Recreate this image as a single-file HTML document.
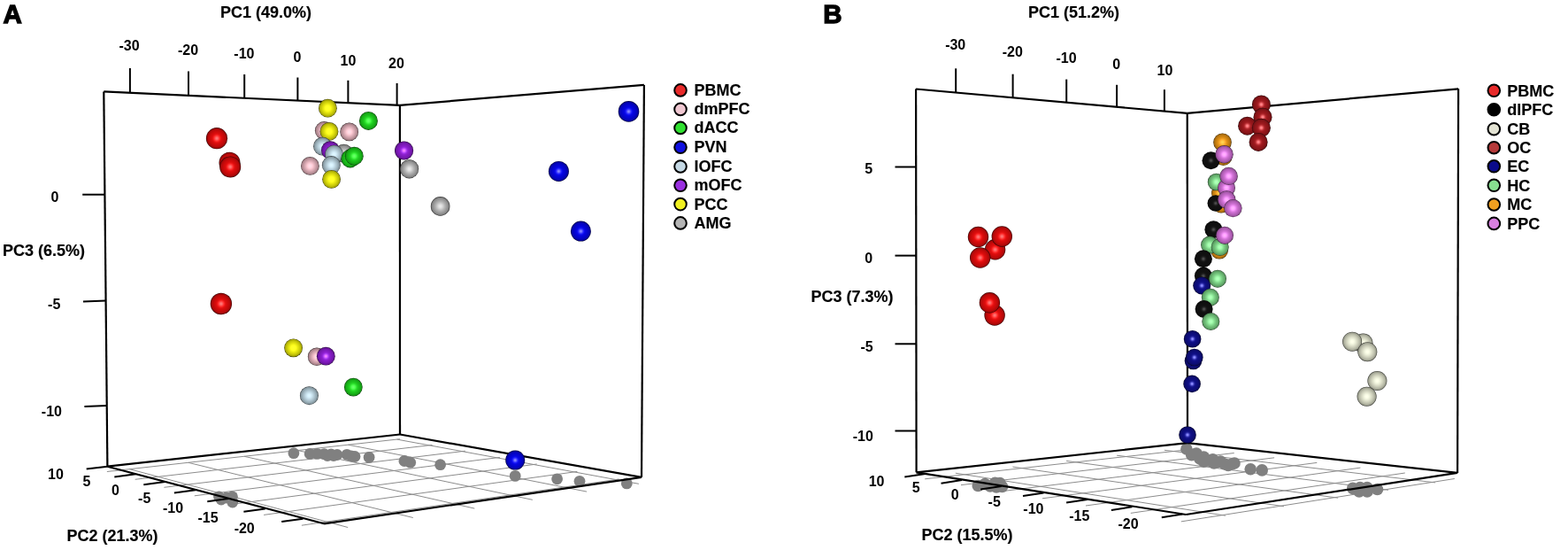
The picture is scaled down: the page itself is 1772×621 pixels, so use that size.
<!DOCTYPE html>
<html><head><meta charset="utf-8"><style>
html,body{margin:0;padding:0;background:#fff;width:1772px;height:621px;overflow:hidden}
svg{display:block}
text{font-family:"Liberation Sans",Arial,sans-serif;fill:#000;stroke:#000;stroke-width:0.15px}
text.tk{stroke:none}
</style></head><body>
<svg width="1772" height="621" viewBox="0 0 1772 621">
<defs><radialGradient id="g_red" cx="0.5" cy="0.5" r="0.5"><stop offset="0.00" stop-color="#ff7979"/><stop offset="0.05" stop-color="#ff7575"/><stop offset="0.10" stop-color="#ff6969"/><stop offset="0.15" stop-color="#ff5858"/><stop offset="0.20" stop-color="#ff4545"/><stop offset="0.25" stop-color="#ff3232"/><stop offset="0.30" stop-color="#fa2424"/><stop offset="0.35" stop-color="#ed1919"/><stop offset="0.40" stop-color="#e41212"/><stop offset="0.45" stop-color="#dd0e0e"/><stop offset="0.50" stop-color="#d80c0c"/><stop offset="0.55" stop-color="#d30b0b"/><stop offset="0.60" stop-color="#cf0b0b"/><stop offset="0.65" stop-color="#c90a0a"/><stop offset="0.70" stop-color="#c40a0a"/><stop offset="0.75" stop-color="#bd0a0a"/><stop offset="0.80" stop-color="#b50909"/><stop offset="0.85" stop-color="#ac0909"/><stop offset="0.90" stop-color="#a00808"/><stop offset="0.95" stop-color="#690505"/><stop offset="1.00" stop-color="#2f0202"/></radialGradient><radialGradient id="g_pink" cx="0.5" cy="0.5" r="0.5"><stop offset="0.00" stop-color="#ffdfe9"/><stop offset="0.05" stop-color="#ffdee8"/><stop offset="0.10" stop-color="#ffdce6"/><stop offset="0.15" stop-color="#ffd9e3"/><stop offset="0.20" stop-color="#ffd5df"/><stop offset="0.25" stop-color="#ffd0da"/><stop offset="0.30" stop-color="#fdcad4"/><stop offset="0.35" stop-color="#f6c4ce"/><stop offset="0.40" stop-color="#efbec7"/><stop offset="0.45" stop-color="#e8b7c1"/><stop offset="0.50" stop-color="#e1b1ba"/><stop offset="0.55" stop-color="#daabb4"/><stop offset="0.60" stop-color="#d3a5ae"/><stop offset="0.65" stop-color="#cc9fa8"/><stop offset="0.70" stop-color="#c599a2"/><stop offset="0.75" stop-color="#bd939b"/><stop offset="0.80" stop-color="#b58d94"/><stop offset="0.85" stop-color="#ac858d"/><stop offset="0.90" stop-color="#a07c83"/><stop offset="0.95" stop-color="#695156"/><stop offset="1.00" stop-color="#2f2426"/></radialGradient><radialGradient id="g_green" cx="0.5" cy="0.5" r="0.5"><stop offset="0.00" stop-color="#69ff69"/><stop offset="0.05" stop-color="#67ff67"/><stop offset="0.10" stop-color="#61ff61"/><stop offset="0.15" stop-color="#59ff59"/><stop offset="0.20" stop-color="#4fff4f"/><stop offset="0.25" stop-color="#44fa44"/><stop offset="0.30" stop-color="#3aee3a"/><stop offset="0.35" stop-color="#31e331"/><stop offset="0.40" stop-color="#29da29"/><stop offset="0.45" stop-color="#24d224"/><stop offset="0.50" stop-color="#20cb20"/><stop offset="0.55" stop-color="#1dc51d"/><stop offset="0.60" stop-color="#1bc01b"/><stop offset="0.65" stop-color="#1abb1a"/><stop offset="0.70" stop-color="#19b519"/><stop offset="0.75" stop-color="#18af18"/><stop offset="0.80" stop-color="#17a817"/><stop offset="0.85" stop-color="#169f16"/><stop offset="0.90" stop-color="#159415"/><stop offset="0.95" stop-color="#0e610e"/><stop offset="1.00" stop-color="#062c06"/></radialGradient><radialGradient id="g_blue" cx="0.5" cy="0.5" r="0.5"><stop offset="0.00" stop-color="#8d8dff"/><stop offset="0.05" stop-color="#8686ff"/><stop offset="0.10" stop-color="#7474ff"/><stop offset="0.15" stop-color="#5a5aff"/><stop offset="0.20" stop-color="#4040ff"/><stop offset="0.25" stop-color="#2929ff"/><stop offset="0.30" stop-color="#1818f8"/><stop offset="0.35" stop-color="#0e0eec"/><stop offset="0.40" stop-color="#0909e4"/><stop offset="0.45" stop-color="#0606de"/><stop offset="0.50" stop-color="#0505da"/><stop offset="0.55" stop-color="#0505d6"/><stop offset="0.60" stop-color="#0404d1"/><stop offset="0.65" stop-color="#0404cc"/><stop offset="0.70" stop-color="#0404c6"/><stop offset="0.75" stop-color="#0404bf"/><stop offset="0.80" stop-color="#0404b7"/><stop offset="0.85" stop-color="#0404ae"/><stop offset="0.90" stop-color="#0303a2"/><stop offset="0.95" stop-color="#02026a"/><stop offset="1.00" stop-color="#010130"/></radialGradient><radialGradient id="g_lblue" cx="0.5" cy="0.5" r="0.5"><stop offset="0.00" stop-color="#e0f9ff"/><stop offset="0.05" stop-color="#dff8ff"/><stop offset="0.10" stop-color="#ddf6ff"/><stop offset="0.15" stop-color="#daf3ff"/><stop offset="0.20" stop-color="#d6effb"/><stop offset="0.25" stop-color="#d2eaf6"/><stop offset="0.30" stop-color="#cce5f0"/><stop offset="0.35" stop-color="#c7dfea"/><stop offset="0.40" stop-color="#c1d9e4"/><stop offset="0.45" stop-color="#bbd2dd"/><stop offset="0.50" stop-color="#b5ccd7"/><stop offset="0.55" stop-color="#afc5d0"/><stop offset="0.60" stop-color="#a9bfca"/><stop offset="0.65" stop-color="#a3b9c3"/><stop offset="0.70" stop-color="#9db2bc"/><stop offset="0.75" stop-color="#97acb5"/><stop offset="0.80" stop-color="#91a4ad"/><stop offset="0.85" stop-color="#899ba4"/><stop offset="0.90" stop-color="#809199"/><stop offset="0.95" stop-color="#535f64"/><stop offset="1.00" stop-color="#252b2d"/></radialGradient><radialGradient id="g_purple" cx="0.5" cy="0.5" r="0.5"><stop offset="0.00" stop-color="#fa87ff"/><stop offset="0.05" stop-color="#f683ff"/><stop offset="0.10" stop-color="#eb78ff"/><stop offset="0.15" stop-color="#da68ff"/><stop offset="0.20" stop-color="#c856ff"/><stop offset="0.25" stop-color="#b544fa"/><stop offset="0.30" stop-color="#a636ea"/><stop offset="0.35" stop-color="#9a2bde"/><stop offset="0.40" stop-color="#9124d4"/><stop offset="0.45" stop-color="#8c1fce"/><stop offset="0.50" stop-color="#881dc8"/><stop offset="0.55" stop-color="#841cc4"/><stop offset="0.60" stop-color="#811bbf"/><stop offset="0.65" stop-color="#7e1abb"/><stop offset="0.70" stop-color="#7a19b5"/><stop offset="0.75" stop-color="#7618af"/><stop offset="0.80" stop-color="#7117a8"/><stop offset="0.85" stop-color="#6b169f"/><stop offset="0.90" stop-color="#641594"/><stop offset="0.95" stop-color="#410e61"/><stop offset="1.00" stop-color="#1d062c"/></radialGradient><radialGradient id="g_yellow" cx="0.5" cy="0.5" r="0.5"><stop offset="0.00" stop-color="#ffff2c"/><stop offset="0.05" stop-color="#ffff2b"/><stop offset="0.10" stop-color="#ffff2a"/><stop offset="0.15" stop-color="#ffff28"/><stop offset="0.20" stop-color="#ffff25"/><stop offset="0.25" stop-color="#ffff22"/><stop offset="0.30" stop-color="#fdfd1f"/><stop offset="0.35" stop-color="#f7f71b"/><stop offset="0.40" stop-color="#f1f118"/><stop offset="0.45" stop-color="#ebeb14"/><stop offset="0.50" stop-color="#e4e411"/><stop offset="0.55" stop-color="#dede0f"/><stop offset="0.60" stop-color="#d7d70d"/><stop offset="0.65" stop-color="#d1d10b"/><stop offset="0.70" stop-color="#caca0a"/><stop offset="0.75" stop-color="#c2c209"/><stop offset="0.80" stop-color="#baba08"/><stop offset="0.85" stop-color="#b0b007"/><stop offset="0.90" stop-color="#a4a407"/><stop offset="0.95" stop-color="#6b6b05"/><stop offset="1.00" stop-color="#303002"/></radialGradient><radialGradient id="g_gray" cx="0.5" cy="0.5" r="0.5"><stop offset="0.00" stop-color="#e9e9e9"/><stop offset="0.05" stop-color="#e8e8e8"/><stop offset="0.10" stop-color="#e5e5e5"/><stop offset="0.15" stop-color="#e1e1e1"/><stop offset="0.20" stop-color="#dbdbdb"/><stop offset="0.25" stop-color="#d5d5d5"/><stop offset="0.30" stop-color="#cecece"/><stop offset="0.35" stop-color="#c6c6c6"/><stop offset="0.40" stop-color="#bfbfbf"/><stop offset="0.45" stop-color="#b8b8b8"/><stop offset="0.50" stop-color="#b1b1b1"/><stop offset="0.55" stop-color="#ababab"/><stop offset="0.60" stop-color="#a5a5a5"/><stop offset="0.65" stop-color="#a0a0a0"/><stop offset="0.70" stop-color="#9a9a9a"/><stop offset="0.75" stop-color="#949494"/><stop offset="0.80" stop-color="#8e8e8e"/><stop offset="0.85" stop-color="#878787"/><stop offset="0.90" stop-color="#7e7e7e"/><stop offset="0.95" stop-color="#525252"/><stop offset="1.00" stop-color="#252525"/></radialGradient><radialGradient id="g_black" cx="0.5" cy="0.5" r="0.5"><stop offset="0.00" stop-color="#525252"/><stop offset="0.05" stop-color="#4f4f4f"/><stop offset="0.10" stop-color="#464646"/><stop offset="0.15" stop-color="#393939"/><stop offset="0.20" stop-color="#2c2c2c"/><stop offset="0.25" stop-color="#212121"/><stop offset="0.30" stop-color="#1a1a1a"/><stop offset="0.35" stop-color="#151515"/><stop offset="0.40" stop-color="#131313"/><stop offset="0.45" stop-color="#111111"/><stop offset="0.50" stop-color="#111111"/><stop offset="0.55" stop-color="#101010"/><stop offset="0.60" stop-color="#101010"/><stop offset="0.65" stop-color="#101010"/><stop offset="0.70" stop-color="#0f0f0f"/><stop offset="0.75" stop-color="#0f0f0f"/><stop offset="0.80" stop-color="#0e0e0e"/><stop offset="0.85" stop-color="#0d0d0d"/><stop offset="0.90" stop-color="#0c0c0c"/><stop offset="0.95" stop-color="#080808"/><stop offset="1.00" stop-color="#040404"/></radialGradient><radialGradient id="g_beige" cx="0.5" cy="0.5" r="0.5"><stop offset="0.00" stop-color="#ffffec"/><stop offset="0.05" stop-color="#ffffeb"/><stop offset="0.10" stop-color="#fdffea"/><stop offset="0.15" stop-color="#fbfee7"/><stop offset="0.20" stop-color="#f7fae4"/><stop offset="0.25" stop-color="#f3f6e0"/><stop offset="0.30" stop-color="#eef1db"/><stop offset="0.35" stop-color="#e9ecd6"/><stop offset="0.40" stop-color="#e3e6d0"/><stop offset="0.45" stop-color="#dee0cb"/><stop offset="0.50" stop-color="#d8dac5"/><stop offset="0.55" stop-color="#d2d4bf"/><stop offset="0.60" stop-color="#ccceba"/><stop offset="0.65" stop-color="#c5c8b4"/><stop offset="0.70" stop-color="#bfc1ae"/><stop offset="0.75" stop-color="#b8baa7"/><stop offset="0.80" stop-color="#b0b2a0"/><stop offset="0.85" stop-color="#a6a998"/><stop offset="0.90" stop-color="#9b9d8d"/><stop offset="0.95" stop-color="#65675c"/><stop offset="1.00" stop-color="#2e2e2a"/></radialGradient><radialGradient id="g_dred" cx="0.5" cy="0.5" r="0.5"><stop offset="0.00" stop-color="#ff8c91"/><stop offset="0.05" stop-color="#ff878c"/><stop offset="0.10" stop-color="#ff7a7f"/><stop offset="0.15" stop-color="#f2676c"/><stop offset="0.20" stop-color="#dc5257"/><stop offset="0.25" stop-color="#c83f44"/><stop offset="0.30" stop-color="#b82f34"/><stop offset="0.35" stop-color="#ac2429"/><stop offset="0.40" stop-color="#a31e22"/><stop offset="0.45" stop-color="#9e1a1f"/><stop offset="0.50" stop-color="#9a181d"/><stop offset="0.55" stop-color="#96171c"/><stop offset="0.60" stop-color="#93161b"/><stop offset="0.65" stop-color="#8f161a"/><stop offset="0.70" stop-color="#8b1519"/><stop offset="0.75" stop-color="#861418"/><stop offset="0.80" stop-color="#811417"/><stop offset="0.85" stop-color="#7a1216"/><stop offset="0.90" stop-color="#721115"/><stop offset="0.95" stop-color="#4a0b0e"/><stop offset="1.00" stop-color="#210506"/></radialGradient><radialGradient id="g_navy" cx="0.5" cy="0.5" r="0.5"><stop offset="0.00" stop-color="#9898ff"/><stop offset="0.05" stop-color="#9191ff"/><stop offset="0.10" stop-color="#7e7efb"/><stop offset="0.15" stop-color="#6464e0"/><stop offset="0.20" stop-color="#4949c5"/><stop offset="0.25" stop-color="#3333ad"/><stop offset="0.30" stop-color="#22229c"/><stop offset="0.35" stop-color="#181890"/><stop offset="0.40" stop-color="#121289"/><stop offset="0.45" stop-color="#0f0f85"/><stop offset="0.50" stop-color="#0e0e82"/><stop offset="0.55" stop-color="#0e0e7f"/><stop offset="0.60" stop-color="#0d0d7d"/><stop offset="0.65" stop-color="#0d0d7a"/><stop offset="0.70" stop-color="#0d0d76"/><stop offset="0.75" stop-color="#0c0c72"/><stop offset="0.80" stop-color="#0c0c6d"/><stop offset="0.85" stop-color="#0b0b68"/><stop offset="0.90" stop-color="#0a0a61"/><stop offset="0.95" stop-color="#07073f"/><stop offset="1.00" stop-color="#03031c"/></radialGradient><radialGradient id="g_lgreen" cx="0.5" cy="0.5" r="0.5"><stop offset="0.00" stop-color="#b1ffbb"/><stop offset="0.05" stop-color="#b1ffbb"/><stop offset="0.10" stop-color="#aeffb8"/><stop offset="0.15" stop-color="#aaffb3"/><stop offset="0.20" stop-color="#a4fdae"/><stop offset="0.25" stop-color="#9df6a7"/><stop offset="0.30" stop-color="#96eea0"/><stop offset="0.35" stop-color="#8fe699"/><stop offset="0.40" stop-color="#88de92"/><stop offset="0.45" stop-color="#82d68b"/><stop offset="0.50" stop-color="#7ccf85"/><stop offset="0.55" stop-color="#77c980"/><stop offset="0.60" stop-color="#72c27b"/><stop offset="0.65" stop-color="#6ebc77"/><stop offset="0.70" stop-color="#6ab672"/><stop offset="0.75" stop-color="#66af6e"/><stop offset="0.80" stop-color="#62a869"/><stop offset="0.85" stop-color="#5c9f64"/><stop offset="0.90" stop-color="#56945d"/><stop offset="0.95" stop-color="#38613d"/><stop offset="1.00" stop-color="#192c1b"/></radialGradient><radialGradient id="g_orange" cx="0.5" cy="0.5" r="0.5"><stop offset="0.00" stop-color="#ffd553"/><stop offset="0.05" stop-color="#ffd351"/><stop offset="0.10" stop-color="#ffcf4e"/><stop offset="0.15" stop-color="#ffc948"/><stop offset="0.20" stop-color="#ffc141"/><stop offset="0.25" stop-color="#ffb839"/><stop offset="0.30" stop-color="#ffaf30"/><stop offset="0.35" stop-color="#f8a629"/><stop offset="0.40" stop-color="#ef9e22"/><stop offset="0.45" stop-color="#e7971d"/><stop offset="0.50" stop-color="#e09118"/><stop offset="0.55" stop-color="#d98c15"/><stop offset="0.60" stop-color="#d38713"/><stop offset="0.65" stop-color="#cd8312"/><stop offset="0.70" stop-color="#c67f11"/><stop offset="0.75" stop-color="#bf7a10"/><stop offset="0.80" stop-color="#b77510"/><stop offset="0.85" stop-color="#ae6f0f"/><stop offset="0.90" stop-color="#a2670e"/><stop offset="0.95" stop-color="#6a4409"/><stop offset="1.00" stop-color="#301e04"/></radialGradient><radialGradient id="g_violet" cx="0.5" cy="0.5" r="0.5"><stop offset="0.00" stop-color="#ffb4ff"/><stop offset="0.05" stop-color="#ffb3ff"/><stop offset="0.10" stop-color="#ffaeff"/><stop offset="0.15" stop-color="#ffa8ff"/><stop offset="0.20" stop-color="#ffa0ff"/><stop offset="0.25" stop-color="#f996fe"/><stop offset="0.30" stop-color="#ee8df3"/><stop offset="0.35" stop-color="#e584e9"/><stop offset="0.40" stop-color="#dc7ce0"/><stop offset="0.45" stop-color="#d475d8"/><stop offset="0.50" stop-color="#cd70d1"/><stop offset="0.55" stop-color="#c66bcb"/><stop offset="0.60" stop-color="#c168c5"/><stop offset="0.65" stop-color="#bb64c0"/><stop offset="0.70" stop-color="#b561ba"/><stop offset="0.75" stop-color="#af5eb3"/><stop offset="0.80" stop-color="#a85aac"/><stop offset="0.85" stop-color="#9f55a3"/><stop offset="0.90" stop-color="#944f98"/><stop offset="0.95" stop-color="#613463"/><stop offset="1.00" stop-color="#2c172d"/></radialGradient></defs>
<rect width="1772" height="621" fill="#fff"/>
<line x1="146.5" y1="529.7" x2="393.2" y2="595.5" stroke="#8c8c8c" stroke-width="1.0" />
<line x1="212.8" y1="522.3" x2="466.8" y2="584.5" stroke="#8c8c8c" stroke-width="1.0" />
<line x1="276.1" y1="515.3" x2="536.3" y2="574.1" stroke="#8c8c8c" stroke-width="1.0" />
<line x1="336.4" y1="508.6" x2="601.8" y2="564.3" stroke="#8c8c8c" stroke-width="1.0" />
<line x1="393.4" y1="502.2" x2="663.1" y2="555.1" stroke="#8c8c8c" stroke-width="1.0" />
<line x1="448.6" y1="496.1" x2="721.9" y2="546.3" stroke="#8c8c8c" stroke-width="1.0" />
<line x1="120.9" y1="532.5" x2="452.0" y2="495.7" stroke="#8c8c8c" stroke-width="1.0" />
<line x1="152.7" y1="541.3" x2="488.6" y2="502.4" stroke="#8c8c8c" stroke-width="1.0" />
<line x1="185.4" y1="550.3" x2="525.9" y2="509.2" stroke="#8c8c8c" stroke-width="1.0" />
<line x1="219.8" y1="559.8" x2="564.9" y2="516.4" stroke="#8c8c8c" stroke-width="1.0" />
<line x1="257.1" y1="570.1" x2="606.7" y2="524.0" stroke="#8c8c8c" stroke-width="1.0" />
<line x1="298.1" y1="581.4" x2="652.4" y2="532.4" stroke="#8c8c8c" stroke-width="1.0" />
<line x1="340.9" y1="593.2" x2="699.5" y2="541.0" stroke="#8c8c8c" stroke-width="1.0" />
<circle cx="331.9" cy="511.7" r="6.4" fill="#808080"/>
<circle cx="350.2" cy="512.4" r="6.4" fill="#808080"/>
<circle cx="358.4" cy="512.4" r="6.4" fill="#808080"/>
<circle cx="366.3" cy="512.6" r="6.4" fill="#808080"/>
<circle cx="374.2" cy="513" r="6.4" fill="#808080"/>
<circle cx="381" cy="513.5" r="6.4" fill="#808080"/>
<circle cx="370" cy="514.5" r="6.4" fill="#808080"/>
<circle cx="377" cy="514.5" r="6.4" fill="#808080"/>
<circle cx="392" cy="513.3" r="6.4" fill="#808080"/>
<circle cx="397" cy="514.8" r="6.4" fill="#808080"/>
<circle cx="401" cy="515.5" r="6.4" fill="#808080"/>
<circle cx="417.1" cy="516.4" r="6.4" fill="#808080"/>
<circle cx="456.9" cy="520.5" r="6.4" fill="#808080"/>
<circle cx="463.7" cy="522.2" r="6.4" fill="#808080"/>
<circle cx="497.6" cy="524.7" r="6.4" fill="#808080"/>
<circle cx="582.2" cy="537.4" r="6.4" fill="#808080"/>
<circle cx="629.6" cy="540.8" r="6.4" fill="#808080"/>
<circle cx="655" cy="543.3" r="6.4" fill="#808080"/>
<circle cx="708.3" cy="545.9" r="6.4" fill="#808080"/>
<circle cx="247.5" cy="561" r="6.4" fill="#808080"/>
<circle cx="250" cy="564" r="6.4" fill="#808080"/>
<circle cx="256" cy="562" r="6.4" fill="#808080"/>
<circle cx="262.5" cy="560.8" r="6.4" fill="#808080"/>
<circle cx="262.8" cy="567" r="6.4" fill="#808080"/>
<line x1="117.3" y1="103.4" x2="451.9" y2="118.9" stroke="#000" stroke-width="2.2" />
<line x1="451.9" y1="118.9" x2="727.9" y2="95.9" stroke="#000" stroke-width="2.2" />
<line x1="117.3" y1="103.4" x2="121.4" y2="526.7" stroke="#000" stroke-width="2.2" />
<line x1="451.9" y1="118.9" x2="452.0" y2="490.5" stroke="#000" stroke-width="2.2" />
<line x1="727.9" y1="95.9" x2="725.0" y2="538.8" stroke="#000" stroke-width="2.2" />
<line x1="121.4" y1="526.7" x2="452.0" y2="490.5" stroke="#000" stroke-width="2.2" />
<line x1="452.0" y1="490.5" x2="725.0" y2="538.8" stroke="#000" stroke-width="2.2" />
<line x1="121.4" y1="526.7" x2="366.1" y2="591.3" stroke="#000" stroke-width="2.2" />
<line x1="366.1" y1="591.3" x2="725.0" y2="538.8" stroke="#000" stroke-width="2.2" />
<line x1="146.9" y1="77.0" x2="146.9" y2="104.8" stroke="#000" stroke-width="2.0" />
<line x1="213.0" y1="80.5" x2="213.0" y2="107.8" stroke="#000" stroke-width="2.0" />
<line x1="276.2" y1="84.0" x2="276.2" y2="110.8" stroke="#000" stroke-width="2.0" />
<line x1="336.4" y1="87.5" x2="336.4" y2="113.5" stroke="#000" stroke-width="2.0" />
<line x1="393.4" y1="90.8" x2="393.4" y2="116.2" stroke="#000" stroke-width="2.0" />
<line x1="448.6" y1="94.0" x2="448.6" y2="118.7" stroke="#000" stroke-width="2.0" />
<text x="146.0" y="56.8" font-size="16" text-anchor="middle" font-weight="bold" class="tk">-30</text>
<text x="212.5" y="61.8" font-size="16" text-anchor="middle" font-weight="bold" class="tk">-20</text>
<text x="275.9" y="65.5" font-size="16" text-anchor="middle" font-weight="bold" class="tk">-10</text>
<text x="335.9" y="69.6" font-size="16" text-anchor="middle" font-weight="bold" class="tk">0</text>
<text x="393.5" y="73.6" font-size="16" text-anchor="middle" font-weight="bold" class="tk">10</text>
<text x="448.0" y="76.6" font-size="16" text-anchor="middle" font-weight="bold" class="tk">20</text>
<line x1="93.2" y1="219.7" x2="118.4" y2="219.7" stroke="#000" stroke-width="2.0" />
<line x1="94.0" y1="340.4" x2="119.6" y2="339.5" stroke="#000" stroke-width="2.0" />
<line x1="95.4" y1="458.9" x2="120.7" y2="458.0" stroke="#000" stroke-width="2.0" />
<text x="62.0" y="227.8" font-size="16" text-anchor="middle" font-weight="bold" class="tk">0</text>
<text x="61.2" y="349.2" font-size="16" text-anchor="middle" font-weight="bold" class="tk">-5</text>
<text x="58.4" y="470.2" font-size="16" text-anchor="middle" font-weight="bold" class="tk">-10</text>
<line x1="129.3" y1="538.6" x2="153.5" y2="535.3" stroke="#000" stroke-width="2.0" />
<line x1="162.3" y1="547.3" x2="186.5" y2="544.0" stroke="#000" stroke-width="2.0" />
<line x1="196.9" y1="556.5" x2="221.1" y2="553.2" stroke="#000" stroke-width="2.0" />
<line x1="234.3" y1="566.3" x2="258.5" y2="563.0" stroke="#000" stroke-width="2.0" />
<line x1="275.4" y1="577.7" x2="299.6" y2="574.4" stroke="#000" stroke-width="2.0" />
<line x1="318.2" y1="589.0" x2="342.4" y2="585.7" stroke="#000" stroke-width="2.0" />
<line x1="97.7" y1="529.5" x2="121.4" y2="526.7" stroke="#000" stroke-width="2.0" />
<text x="63.0" y="541.4" font-size="16" text-anchor="middle" font-weight="bold" class="tk">10</text>
<text x="98.0" y="549.4" font-size="16" text-anchor="middle" font-weight="bold" class="tk">5</text>
<text x="130.5" y="558.5" font-size="16" text-anchor="middle" font-weight="bold" class="tk">0</text>
<text x="163.2" y="568.2" font-size="16" text-anchor="middle" font-weight="bold" class="tk">-5</text>
<text x="195.5" y="578.9" font-size="16" text-anchor="middle" font-weight="bold" class="tk">-10</text>
<text x="235.0" y="590.3" font-size="16" text-anchor="middle" font-weight="bold" class="tk">-15</text>
<text x="276.2" y="601.6" font-size="16" text-anchor="middle" font-weight="bold" class="tk">-20</text>
<text x="300.5" y="19.6" font-size="18" text-anchor="middle" font-weight="bold" >PC1 (49.0%)</text>
<text x="49.6" y="289.0" font-size="18" text-anchor="middle" font-weight="bold" >PC3 (6.5%)</text>
<text x="127.0" y="611.0" font-size="18" text-anchor="middle" font-weight="bold" >PC2 (21.3%)</text>
<text x="3.6" y="25.9" font-size="29.5" text-anchor="start" font-weight="bold" style="stroke-width:1.3px">A</text>
<circle cx="245" cy="156.2" r="12.1" fill="url(#g_red)"/>
<circle cx="259.5" cy="183.7" r="12" fill="url(#g_red)"/>
<circle cx="260.2" cy="188.4" r="12" fill="url(#g_red)"/>
<circle cx="249.9" cy="343" r="12.2" fill="url(#g_red)"/>
<circle cx="370.4" cy="122.2" r="10.4" fill="url(#g_yellow)"/>
<circle cx="416.4" cy="136.4" r="10.5" fill="url(#g_green)"/>
<circle cx="366.3" cy="147.5" r="10.4" fill="url(#g_pink)"/>
<circle cx="372" cy="148.4" r="10.4" fill="url(#g_yellow)"/>
<circle cx="394.7" cy="148.9" r="10.4" fill="url(#g_pink)"/>
<circle cx="364.5" cy="165.2" r="10.4" fill="url(#g_lblue)"/>
<circle cx="388.5" cy="173.2" r="10.4" fill="url(#g_gray)"/>
<circle cx="373.4" cy="169.7" r="10.4" fill="url(#g_purple)"/>
<circle cx="377.5" cy="174.1" r="10.4" fill="url(#g_lblue)"/>
<circle cx="395.8" cy="179" r="10.4" fill="url(#g_green)"/>
<circle cx="400.3" cy="176.2" r="10.4" fill="url(#g_green)"/>
<circle cx="350.4" cy="187.4" r="10.4" fill="url(#g_pink)"/>
<circle cx="374.3" cy="186.5" r="10.4" fill="url(#g_lblue)"/>
<circle cx="374.6" cy="202.4" r="10.4" fill="url(#g_yellow)"/>
<circle cx="456.6" cy="170" r="10.6" fill="url(#g_purple)"/>
<circle cx="462.6" cy="190.8" r="10.6" fill="url(#g_gray)"/>
<circle cx="497.6" cy="232.9" r="10.8" fill="url(#g_gray)"/>
<circle cx="710.5" cy="125.9" r="11.8" fill="url(#g_blue)"/>
<circle cx="631.4" cy="193.4" r="11.5" fill="url(#g_blue)"/>
<circle cx="656.4" cy="261.1" r="11.5" fill="url(#g_blue)"/>
<circle cx="331.6" cy="392.8" r="10.4" fill="url(#g_yellow)"/>
<circle cx="358" cy="402.8" r="10.2" fill="url(#g_pink)"/>
<circle cx="368.3" cy="402.2" r="10.4" fill="url(#g_purple)"/>
<circle cx="349.4" cy="446.7" r="10.5" fill="url(#g_lblue)"/>
<circle cx="399.3" cy="437.1" r="10.4" fill="url(#g_green)"/>
<circle cx="582.2" cy="519.6" r="11" fill="url(#g_blue)"/>
<circle cx="769" cy="101.9" r="6.8" fill="#e82a2a" stroke="#000" stroke-width="2"/>
<text x="784.6" y="107.9" font-size="18" text-anchor="start" font-weight="bold" >PBMC</text>
<circle cx="769" cy="123.4" r="6.8" fill="#f0c8d2" stroke="#000" stroke-width="2"/>
<text x="784.6" y="129.4" font-size="18" text-anchor="start" font-weight="bold" >dmPFC</text>
<circle cx="769" cy="144.4" r="6.8" fill="#30e030" stroke="#000" stroke-width="2"/>
<text x="784.6" y="150.4" font-size="18" text-anchor="start" font-weight="bold" >dACC</text>
<circle cx="769" cy="166.3" r="6.8" fill="#1010e0" stroke="#000" stroke-width="2"/>
<text x="784.6" y="172.3" font-size="18" text-anchor="start" font-weight="bold" >PVN</text>
<circle cx="769" cy="188" r="6.8" fill="#c4d8e4" stroke="#000" stroke-width="2"/>
<text x="784.6" y="194.0" font-size="18" text-anchor="start" font-weight="bold" >lOFC</text>
<circle cx="769" cy="209.3" r="6.8" fill="#9a30e0" stroke="#000" stroke-width="2"/>
<text x="784.6" y="215.3" font-size="18" text-anchor="start" font-weight="bold" >mOFC</text>
<circle cx="769" cy="230.6" r="6.8" fill="#f0f020" stroke="#000" stroke-width="2"/>
<text x="784.6" y="236.6" font-size="18" text-anchor="start" font-weight="bold" >PCC</text>
<circle cx="769" cy="251.9" r="6.8" fill="#b4b4b4" stroke="#000" stroke-width="2"/>
<text x="784.6" y="257.9" font-size="18" text-anchor="start" font-weight="bold" >AMG</text>
<line x1="1079.8" y1="534.2" x2="1385.0" y2="582.2" stroke="#8c8c8c" stroke-width="1.0" />
<line x1="1144.4" y1="527.1" x2="1451.0" y2="571.8" stroke="#8c8c8c" stroke-width="1.0" />
<line x1="1205.1" y1="520.4" x2="1512.2" y2="562.2" stroke="#8c8c8c" stroke-width="1.0" />
<line x1="1262.1" y1="514.2" x2="1569.0" y2="553.3" stroke="#8c8c8c" stroke-width="1.0" />
<line x1="1315.9" y1="508.3" x2="1622.1" y2="544.9" stroke="#8c8c8c" stroke-width="1.0" />
<line x1="1045.2" y1="540.8" x2="1352.5" y2="506.6" stroke="#8c8c8c" stroke-width="1.0" />
<line x1="1086.0" y1="547.6" x2="1394.7" y2="511.5" stroke="#8c8c8c" stroke-width="1.0" />
<line x1="1130.4" y1="554.9" x2="1440.1" y2="516.8" stroke="#8c8c8c" stroke-width="1.0" />
<line x1="1178.0" y1="562.8" x2="1488.3" y2="522.4" stroke="#8c8c8c" stroke-width="1.0" />
<line x1="1227.0" y1="571.0" x2="1537.4" y2="528.1" stroke="#8c8c8c" stroke-width="1.0" />
<line x1="1277.8" y1="579.4" x2="1587.8" y2="534.0" stroke="#8c8c8c" stroke-width="1.0" />
<line x1="1334.8" y1="588.9" x2="1643.8" y2="540.5" stroke="#8c8c8c" stroke-width="1.0" />
<circle cx="1105.3" cy="548.5" r="6.8" fill="#808080"/>
<circle cx="1113" cy="546.5" r="6.8" fill="#808080"/>
<circle cx="1119" cy="549" r="6.8" fill="#808080"/>
<circle cx="1124.5" cy="545.3" r="6.8" fill="#808080"/>
<circle cx="1130" cy="545.5" r="6.8" fill="#808080"/>
<circle cx="1132.5" cy="549.5" r="6.8" fill="#808080"/>
<circle cx="1126" cy="550" r="6.8" fill="#808080"/>
<circle cx="1340.9" cy="507" r="6.8" fill="#808080"/>
<circle cx="1346.7" cy="513.8" r="6.8" fill="#808080"/>
<circle cx="1360.4" cy="516" r="6.8" fill="#808080"/>
<circle cx="1370.6" cy="518.9" r="6.8" fill="#808080"/>
<circle cx="1379.3" cy="521.1" r="6.8" fill="#808080"/>
<circle cx="1392.3" cy="524" r="6.8" fill="#808080"/>
<circle cx="1388" cy="525.4" r="6.8" fill="#808080"/>
<circle cx="1360.4" cy="521.1" r="6.8" fill="#808080"/>
<circle cx="1372" cy="523" r="6.8" fill="#808080"/>
<circle cx="1352" cy="512" r="6.8" fill="#808080"/>
<circle cx="1356" cy="518" r="6.8" fill="#808080"/>
<circle cx="1366" cy="520" r="6.8" fill="#808080"/>
<circle cx="1375" cy="522" r="6.8" fill="#808080"/>
<circle cx="1384" cy="524" r="6.8" fill="#808080"/>
<circle cx="1395" cy="523" r="6.8" fill="#808080"/>
<circle cx="1413.2" cy="529.8" r="6.8" fill="#808080"/>
<circle cx="1426.2" cy="530.9" r="6.8" fill="#808080"/>
<circle cx="1528.8" cy="551.4" r="6.8" fill="#808080"/>
<circle cx="1537" cy="550.5" r="6.8" fill="#808080"/>
<circle cx="1545" cy="550.5" r="6.8" fill="#808080"/>
<circle cx="1545" cy="555" r="6.8" fill="#808080"/>
<circle cx="1556.5" cy="552.5" r="6.8" fill="#808080"/>
<circle cx="1536" cy="555" r="6.8" fill="#808080"/>
<line x1="1035.1" y1="100.5" x2="1341.7" y2="127.9" stroke="#000" stroke-width="2.2" />
<line x1="1341.7" y1="127.9" x2="1648.1" y2="100.3" stroke="#000" stroke-width="2.2" />
<line x1="1035.1" y1="100.5" x2="1035.6" y2="533.3" stroke="#000" stroke-width="2.2" />
<line x1="1341.7" y1="127.9" x2="1342.0" y2="500.2" stroke="#000" stroke-width="2.2" />
<line x1="1648.1" y1="100.3" x2="1647.1" y2="533.9" stroke="#000" stroke-width="2.2" />
<line x1="1035.6" y1="533.3" x2="1342.0" y2="500.2" stroke="#000" stroke-width="2.2" />
<line x1="1342.0" y1="500.2" x2="1647.1" y2="533.9" stroke="#000" stroke-width="2.2" />
<line x1="1035.6" y1="533.3" x2="1340.2" y2="581.0" stroke="#000" stroke-width="2.2" />
<line x1="1340.2" y1="581.0" x2="1647.1" y2="533.9" stroke="#000" stroke-width="2.2" />
<line x1="1080.2" y1="77.3" x2="1080.2" y2="104.5" stroke="#000" stroke-width="2.0" />
<line x1="1144.6" y1="83.7" x2="1144.6" y2="110.3" stroke="#000" stroke-width="2.0" />
<line x1="1205.2" y1="89.6" x2="1205.2" y2="115.7" stroke="#000" stroke-width="2.0" />
<line x1="1262.1" y1="95.8" x2="1262.1" y2="120.8" stroke="#000" stroke-width="2.0" />
<line x1="1315.9" y1="101.2" x2="1315.9" y2="125.6" stroke="#000" stroke-width="2.0" />
<text x="1079.7" y="56.2" font-size="16" text-anchor="middle" font-weight="bold" class="tk">-30</text>
<text x="1144.3" y="63.9" font-size="16" text-anchor="middle" font-weight="bold" class="tk">-20</text>
<text x="1205.0" y="70.8" font-size="16" text-anchor="middle" font-weight="bold" class="tk">-10</text>
<text x="1261.6" y="78.1" font-size="16" text-anchor="middle" font-weight="bold" class="tk">0</text>
<text x="1316.4" y="84.5" font-size="16" text-anchor="middle" font-weight="bold" class="tk">10</text>
<line x1="1011.5" y1="188.5" x2="1035.3" y2="188.5" stroke="#000" stroke-width="2.0" />
<line x1="1011.5" y1="288.6" x2="1035.3" y2="288.6" stroke="#000" stroke-width="2.0" />
<line x1="1011.5" y1="388.3" x2="1035.3" y2="388.3" stroke="#000" stroke-width="2.0" />
<line x1="1011.5" y1="486.5" x2="1035.3" y2="486.5" stroke="#000" stroke-width="2.0" />
<text x="981.7" y="196.4" font-size="16" text-anchor="middle" font-weight="bold" class="tk">5</text>
<text x="981.7" y="296.8" font-size="16" text-anchor="middle" font-weight="bold" class="tk">0</text>
<text x="979.6" y="397.4" font-size="16" text-anchor="middle" font-weight="bold" class="tk">-5</text>
<text x="975.3" y="498.4" font-size="16" text-anchor="middle" font-weight="bold" class="tk">-10</text>
<line x1="1022.3" y1="538.6" x2="1045.8" y2="535.0" stroke="#000" stroke-width="2.0" />
<line x1="1063.5" y1="545.7" x2="1087.0" y2="542.1" stroke="#000" stroke-width="2.0" />
<line x1="1108.2" y1="552.6" x2="1131.7" y2="549.0" stroke="#000" stroke-width="2.0" />
<line x1="1156.0" y1="560.0" x2="1179.5" y2="556.4" stroke="#000" stroke-width="2.0" />
<line x1="1205.1" y1="567.5" x2="1228.6" y2="563.9" stroke="#000" stroke-width="2.0" />
<line x1="1255.9" y1="575.9" x2="1279.4" y2="572.3" stroke="#000" stroke-width="2.0" />
<line x1="1312.8" y1="584.2" x2="1336.3" y2="580.6" stroke="#000" stroke-width="2.0" />
<text x="990.6" y="548.9" font-size="16" text-anchor="middle" font-weight="bold" class="tk">10</text>
<text x="1035.2" y="556.2" font-size="16" text-anchor="middle" font-weight="bold" class="tk">5</text>
<text x="1079.3" y="564.0" font-size="16" text-anchor="middle" font-weight="bold" class="tk">0</text>
<text x="1123.7" y="571.8" font-size="16" text-anchor="middle" font-weight="bold" class="tk">-5</text>
<text x="1167.9" y="580.0" font-size="16" text-anchor="middle" font-weight="bold" class="tk">-10</text>
<text x="1219.8" y="587.8" font-size="16" text-anchor="middle" font-weight="bold" class="tk">-15</text>
<text x="1275.0" y="596.9" font-size="16" text-anchor="middle" font-weight="bold" class="tk">-20</text>
<text x="1213.4" y="20.0" font-size="18" text-anchor="middle" font-weight="bold" >PC1 (51.2%)</text>
<text x="963.0" y="341.0" font-size="18" text-anchor="middle" font-weight="bold" >PC3 (7.3%)</text>
<text x="1093.0" y="610.0" font-size="18" text-anchor="middle" font-weight="bold" >PC2 (15.5%)</text>
<text x="930.3" y="25.9" font-size="29.5" text-anchor="start" font-weight="bold" style="stroke-width:1.3px">B</text>
<circle cx="1105.5" cy="267.5" r="11.7" fill="url(#g_red)"/>
<circle cx="1124.6" cy="281.8" r="11.7" fill="url(#g_red)"/>
<circle cx="1132.3" cy="267" r="11.7" fill="url(#g_red)"/>
<circle cx="1107.7" cy="291" r="11.7" fill="url(#g_red)"/>
<circle cx="1124.1" cy="356" r="11.7" fill="url(#g_red)"/>
<circle cx="1118.4" cy="341.8" r="11.7" fill="url(#g_red)"/>
<circle cx="1425.4" cy="118" r="10.5" fill="url(#g_dred)"/>
<circle cx="1427" cy="132.2" r="10.5" fill="url(#g_dred)"/>
<circle cx="1409.6" cy="142.2" r="10.5" fill="url(#g_dred)"/>
<circle cx="1425.4" cy="144.3" r="10.5" fill="url(#g_dred)"/>
<circle cx="1422.1" cy="160.4" r="10.5" fill="url(#g_dred)"/>
<circle cx="1540.5" cy="387.5" r="11" fill="url(#g_beige)"/>
<circle cx="1528.1" cy="385.7" r="11" fill="url(#g_beige)"/>
<circle cx="1545.3" cy="397.2" r="11" fill="url(#g_beige)"/>
<circle cx="1556.4" cy="430" r="11" fill="url(#g_beige)"/>
<circle cx="1544.6" cy="447.7" r="11" fill="url(#g_beige)"/>
<circle cx="1381.5" cy="160.7" r="10.3" fill="url(#g_orange)"/>
<circle cx="1382.5" cy="177" r="10" fill="url(#g_orange)"/>
<circle cx="1368.5" cy="181.2" r="10" fill="url(#g_black)"/>
<circle cx="1383.5" cy="174.3" r="10.2" fill="url(#g_violet)"/>
<circle cx="1378" cy="218" r="9" fill="url(#g_orange)"/>
<circle cx="1380" cy="231" r="9.5" fill="url(#g_orange)"/>
<circle cx="1374.6" cy="205.5" r="9.8" fill="url(#g_lgreen)"/>
<circle cx="1386" cy="212" r="10" fill="url(#g_violet)"/>
<circle cx="1388.6" cy="198.9" r="10.2" fill="url(#g_violet)"/>
<circle cx="1373.8" cy="229.5" r="9.3" fill="url(#g_black)"/>
<circle cx="1386.2" cy="225.4" r="10.2" fill="url(#g_violet)"/>
<circle cx="1393.4" cy="235.1" r="10.2" fill="url(#g_violet)"/>
<circle cx="1371.4" cy="259.2" r="10" fill="url(#g_black)"/>
<circle cx="1378" cy="282.6" r="10" fill="url(#g_orange)"/>
<circle cx="1367.1" cy="276.6" r="10" fill="url(#g_lgreen)"/>
<circle cx="1378.7" cy="279" r="10" fill="url(#g_lgreen)"/>
<circle cx="1384" cy="265.7" r="10" fill="url(#g_violet)"/>
<circle cx="1359.9" cy="292.3" r="10" fill="url(#g_black)"/>
<circle cx="1359.9" cy="311.6" r="10" fill="url(#g_black)"/>
<circle cx="1358.2" cy="322.5" r="10" fill="url(#g_navy)"/>
<circle cx="1376" cy="314.7" r="10" fill="url(#g_lgreen)"/>
<circle cx="1367.8" cy="335.7" r="10" fill="url(#g_lgreen)"/>
<circle cx="1360.6" cy="349" r="10" fill="url(#g_black)"/>
<circle cx="1368.3" cy="363" r="10" fill="url(#g_lgreen)"/>
<circle cx="1347.6" cy="382.7" r="9.8" fill="url(#g_navy)"/>
<circle cx="1348.5" cy="407.5" r="9.8" fill="url(#g_navy)"/>
<circle cx="1349.8" cy="403.5" r="9.8" fill="url(#g_navy)"/>
<circle cx="1347.1" cy="433.4" r="9.8" fill="url(#g_navy)"/>
<circle cx="1342" cy="491" r="9.8" fill="url(#g_navy)"/>
<circle cx="1688.3" cy="102.3" r="6.8" fill="#e82a2a" stroke="#000" stroke-width="2"/>
<text x="1703.2" y="108.7" font-size="18" text-anchor="start" font-weight="bold" >PBMC</text>
<circle cx="1688.3" cy="123.7" r="6.8" fill="#000000" stroke="#000" stroke-width="2"/>
<text x="1703.2" y="130.1" font-size="18" text-anchor="start" font-weight="bold" >dlPFC</text>
<circle cx="1688.3" cy="145.7" r="6.8" fill="#e4e4d4" stroke="#000" stroke-width="2"/>
<text x="1703.2" y="152.1" font-size="18" text-anchor="start" font-weight="bold" >CB</text>
<circle cx="1688.3" cy="166.7" r="6.8" fill="#b53a3a" stroke="#000" stroke-width="2"/>
<text x="1703.2" y="173.1" font-size="18" text-anchor="start" font-weight="bold" >OC</text>
<circle cx="1688.3" cy="187.8" r="6.8" fill="#0a0a8a" stroke="#000" stroke-width="2"/>
<text x="1703.2" y="194.2" font-size="18" text-anchor="start" font-weight="bold" >EC</text>
<circle cx="1688.3" cy="209.3" r="6.8" fill="#88e090" stroke="#000" stroke-width="2"/>
<text x="1703.2" y="215.7" font-size="18" text-anchor="start" font-weight="bold" >HC</text>
<circle cx="1688.3" cy="231" r="6.8" fill="#f0a020" stroke="#000" stroke-width="2"/>
<text x="1703.2" y="237.4" font-size="18" text-anchor="start" font-weight="bold" >MC</text>
<circle cx="1688.3" cy="252.4" r="6.8" fill="#d880e0" stroke="#000" stroke-width="2"/>
<text x="1703.2" y="258.8" font-size="18" text-anchor="start" font-weight="bold" >PPC</text>
</svg></body></html>
